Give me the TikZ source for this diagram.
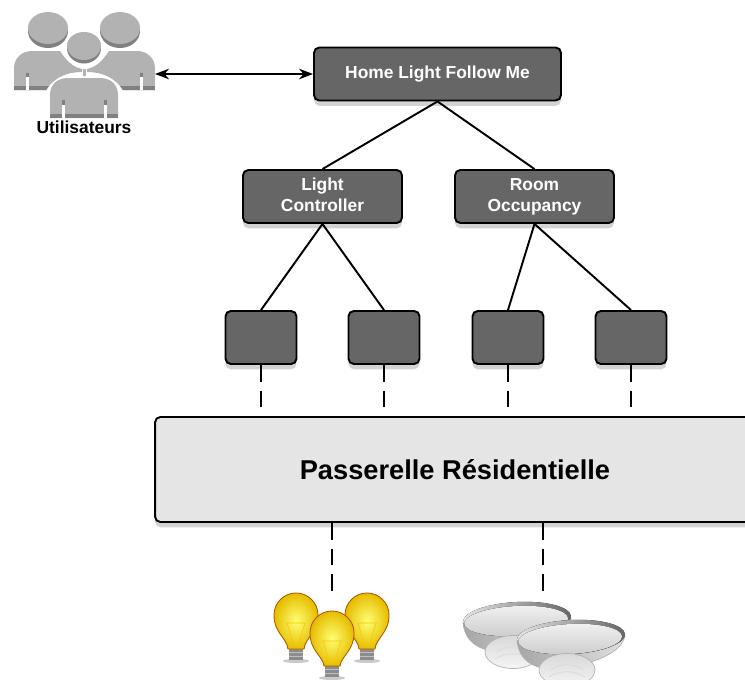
\documentclass[tikz,border=0pt]{standalone}
\usepackage{fontspec}
\setmainfont{Liberation Sans}
\usetikzlibrary{shadows,arrows.meta}

\newcommand{\personhalf}[1]{%
  \fill[user light,#1] (14,90) -- (14,68) .. controls (14,58) and (22,51) .. (32,51) -- (60,51)
    .. controls (66,60) and (72,67) .. (82,69) -- (82,72) .. controls (66,72) and (54,78) .. (46,90) -- cycle;
  \fill[user dark,#1] (14,86) -- (49,86) -- (46,90) -- (14,90) -- cycle;
  \fill[white,#1] (26,76) rectangle (29,90);
  \fill[user dark,#1] (26,73) rectangle (29,77);
}
\newcommand{\lightbulb}[3]{%
  \fill[black!35,opacity=.6] (#1,#2+#3+1) ellipse (13 and 2);
  \fill[bulb socket] (#1-7,#2+#3-12) rectangle (#1+7,#2+#3);
  \draw[white!75!black,line width=.4pt] (#1-7,#2+#3-8) -- (#1+7,#2+#3-8) (#1-7,#2+#3-4) -- (#1+7,#2+#3-4);
  \draw[bulb glass] (#1-8,#2+#3-11) .. controls (#1-9,#2+23) and (#1-22,#2+18) .. (#1-22,#2)
    arc (180:360:22) .. controls (#1+22,#2+18) and (#1+9,#2+23) .. (#1+8,#2+#3-11) -- cycle;
  \draw[orange!45!yellow,line width=.4pt] (#1-9,#2+8) -- (#1-3,#2+28) (#1+9,#2+8) -- (#1+3,#2+28) (#1-10,#2+8) -- (#1+10,#2+8);
}
\newcommand{\motionsensor}[2]{%
  \draw[black!30,line width=.4pt,left color=black!35,right color=black!12] (#1-54,#2+3)
    .. controls (#1-52,#2+30) and (#1-26,#2+36) .. (#1,#2+30)
    .. controls (#1+25,#2+25) and (#1+50,#2+16) .. (#1+54,#2-1) -- cycle;
  \fill[sensor rim,rotate around={3:(#1,#2)}] (#1,#2) ellipse (54 and 17);
  \fill[top color=black!6,bottom color=black!20,rotate around={3:(#1,#2)}] (#1-1,#2+2) ellipse (52 and 15);
  \draw[sensor dome] (#1-4,#2+33) ellipse (28 and 16.5);
  \draw[black!15,line width=.4pt] (#1-20,#2+33) .. controls (#1-12,#2+26) and (#1+4,#2+26) .. (#1+12,#2+33)
    (#1-22,#2+40) .. controls (#1-12,#2+33) and (#1+4,#2+33) .. (#1+14,#2+40);
}

\begin{document}
\begin{tikzpicture}[x=.02cm,y=-.02cm]
% Styles
\tikzset{dark box/.style={draw=black,line width=1.1pt,rounded corners=3pt,fill=black!60,text=white,font=\bfseries\fontsize{9.9}{12}\selectfont,align=center,inner sep=0pt,drop shadow={shadow xshift=0pt,shadow yshift=-3pt,opacity=.35}},
  gateway box/.style={draw=black,line width=1.1pt,rounded corners=3pt,fill=black!10,font=\bfseries\fontsize{15.5}{18}\selectfont,inner sep=0pt,minimum width=12cm,minimum height=2.1cm,drop shadow={shadow xshift=0pt,shadow yshift=-3pt,opacity=.35}},
  small box/.style={dark box,minimum width=1.42cm,minimum height=1.06cm},
  mid box/.style={dark box,minimum width=3.18cm,minimum height=1.06cm},
  link/.style={line width=1.1pt},
  dashed link/.style={line width=1.1pt,dash pattern=on 9.6pt off 5pt},
  user light/.style={fill=black!30}, user dark/.style={fill=black!50},
  bulb socket/.style={fill=black!45},
  bulb glass/.style={draw=orange!70!black,line width=.5pt,inner color=yellow!55!white,outer color=orange!35!yellow!90!black},
  sensor dome/.style={draw=black!30,line width=.4pt,top color=black!15,bottom color=black!4},
  sensor rim/.style={left color=black!10,right color=black!60}}

\clip (0,0) rectangle (745,680);

% Boites
\node[dark box,minimum width=4.94cm,minimum height=1.06cm] (home) at (437.5,74) {Home Light Follow Me};
\node[mid box] (light) at (322.5,196.5) {Light\\Controller\vphantom{y}};
\node[mid box] (room) at (534.5,196.5) {Room\\Occupancy};
\node[small box] (a) at (261,337.5) {};
\node[small box] (b) at (384,337.5) {};
\node[small box] (c) at (508,337.5) {};
\node[small box] (d) at (631,337.5) {};
\node[gateway box] (gateway) at (455,469.5) {Passerelle Résidentielle};

% Icones
\fill[user dark] (48,31) ellipse (20 and 17);
\fill[user light] (48,28) ellipse (20 and 16);
\fill[user dark] (120,31) ellipse (20 and 17);
\fill[user light] (120,28) ellipse (20 and 16);
\personhalf{}
\begin{scope}[xshift=3.38cm,x=-.02cm]
\personhalf{}
\end{scope}
\fill[user light] (83,69) rectangle (86,76);
\fill[white] (84,47) ellipse (20 and 19);
\fill[user dark] (84,48) ellipse (17 and 15.5);
\fill[user light] (84,46) ellipse (17 and 14);
\fill[user light] (50,118) -- (50,95) .. controls (50,84) and (58,78) .. (68,78) -- (100,78)
  .. controls (110,78) and (118,84) .. (118,95) -- (118,118) -- cycle;
\fill[user dark] (50,114) rectangle (118,118);
\fill[white] (62,102) rectangle (65,118);
\fill[white] (104,102) rectangle (107,118);
\fill[user dark] (62,100) rectangle (65,105);
\fill[user dark] (104,100) rectangle (107,105);
\node[font=\bfseries\fontsize{9.9}{12}\selectfont,inner sep=0pt] (users) at (84,127) {Utilisateurs};
\coordinate (usersright) at (155,74);

\lightbulb{296}{615}{45}
\lightbulb{367}{615}{45}
\lightbulb{332}{633}{44}
\motionsensor{517}{619}
\motionsensor{571}{637}

\coordinate (bulbs) at (332,592);
\coordinate (sensors) at (543,595);

% Liens
\draw[link,{Stealth[length=8pt,width=6pt]}-{Stealth[length=8pt,width=6pt]}] (usersright) -- (home.west);
\draw[link] (home.south) -- (light.north) (home.south) -- (room.north);
\draw[link] (light.south) -- (a.north) (light.south) -- (b.north);
\draw[link] (room.south) -- (c.north) (room.south) -- (d.north);
\draw[dashed link] (a.south) -- (a.south |- gateway.north);
\draw[dashed link] (b.south) -- (b.south |- gateway.north);
\draw[dashed link] (c.south) -- (c.south |- gateway.north);
\draw[dashed link] (d.south) -- (d.south |- gateway.north);
\draw[dashed link] (bulbs |- gateway.south) -- (bulbs);
\draw[dashed link] (sensors |- gateway.south) -- (sensors);

\end{tikzpicture}
\end{document}
